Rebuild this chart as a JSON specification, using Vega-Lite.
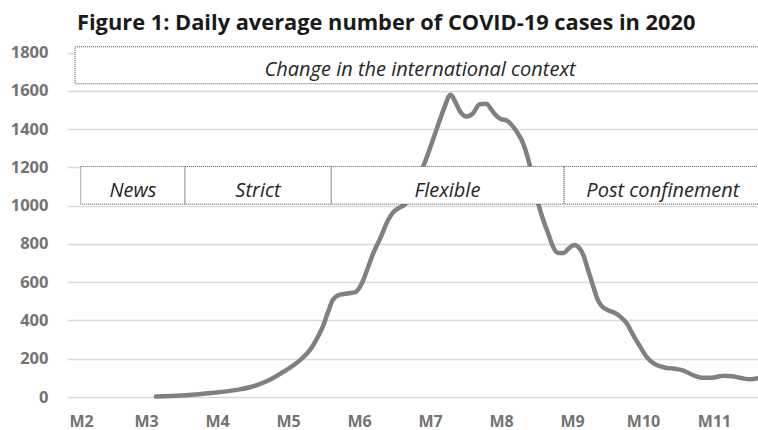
{
  "$schema": "https://vega.github.io/schema/vega-lite/v6.json",
  "width": 691,
  "height": 354,
  "autosize": {"type": "none"},
  "padding": {"left": 67, "top": 43, "right": 0, "bottom": 33},
  "background": "white",
  "config": {"view": {"stroke": null}},
  "title": {
    "text": "Figure 1: Daily average number of COVID-19 cases in 2020",
    "anchor": "start",
    "frame": "group",
    "dx": 10,
    "offset": -9,
    "baseline": "alphabetic",
    "font": "Open Sans",
    "fontSize": 21.8,
    "fontWeight": "bold",
    "color": "#1a1a1a"
  },
  "datasets": {
    "cases": [
      {"t": 3.14, "v": 2}, {"t": 3.5, "v": 8}, {"t": 3.855, "v": 19}, {"t": 4.1, "v": 28},
      {"t": 4.32, "v": 40}, {"t": 4.5, "v": 55}, {"t": 4.7, "v": 82}, {"t": 4.95, "v": 135},
      {"t": 5.17, "v": 193}, {"t": 5.31, "v": 246}, {"t": 5.4, "v": 300}, {"t": 5.49, "v": 368},
      {"t": 5.57, "v": 450}, {"t": 5.63, "v": 507}, {"t": 5.73, "v": 535}, {"t": 5.85, "v": 542},
      {"t": 5.95, "v": 548}, {"t": 6.04, "v": 594}, {"t": 6.12, "v": 670}, {"t": 6.2, "v": 751},
      {"t": 6.3, "v": 830}, {"t": 6.41, "v": 925}, {"t": 6.48, "v": 965}, {"t": 6.57, "v": 990},
      {"t": 6.65, "v": 1008}, {"t": 6.78, "v": 1100}, {"t": 6.91, "v": 1210}, {"t": 7.0, "v": 1300},
      {"t": 7.09, "v": 1396}, {"t": 7.2, "v": 1510}, {"t": 7.29, "v": 1580}, {"t": 7.36, "v": 1540},
      {"t": 7.42, "v": 1495}, {"t": 7.52, "v": 1466}, {"t": 7.6, "v": 1480}, {"t": 7.7, "v": 1530},
      {"t": 7.79, "v": 1532}, {"t": 7.86, "v": 1505}, {"t": 7.92, "v": 1475}, {"t": 8.0, "v": 1452},
      {"t": 8.08, "v": 1445}, {"t": 8.17, "v": 1413}, {"t": 8.25, "v": 1370}, {"t": 8.31, "v": 1327},
      {"t": 8.37, "v": 1260}, {"t": 8.41, "v": 1204}, {"t": 8.47, "v": 1100}, {"t": 8.53, "v": 1004},
      {"t": 8.6, "v": 920}, {"t": 8.66, "v": 860}, {"t": 8.74, "v": 780}, {"t": 8.81, "v": 752},
      {"t": 8.88, "v": 752}, {"t": 8.95, "v": 775}, {"t": 9.03, "v": 795}, {"t": 9.1, "v": 780},
      {"t": 9.16, "v": 742}, {"t": 9.23, "v": 660}, {"t": 9.3, "v": 577}, {"t": 9.36, "v": 510},
      {"t": 9.42, "v": 475}, {"t": 9.5, "v": 455}, {"t": 9.6, "v": 440}, {"t": 9.68, "v": 420},
      {"t": 9.77, "v": 385}, {"t": 9.86, "v": 325}, {"t": 9.96, "v": 263}, {"t": 10.05, "v": 210},
      {"t": 10.15, "v": 176}, {"t": 10.25, "v": 160}, {"t": 10.33, "v": 152}, {"t": 10.45, "v": 148},
      {"t": 10.57, "v": 138}, {"t": 10.7, "v": 115}, {"t": 10.83, "v": 101}, {"t": 10.97, "v": 101},
      {"t": 11.08, "v": 108}, {"t": 11.15, "v": 111}, {"t": 11.25, "v": 108}, {"t": 11.32, "v": 104},
      {"t": 11.42, "v": 96}, {"t": 11.51, "v": 93}, {"t": 11.62, "v": 98}
    ],
    "boxes": [
      {"label": "Change in the international context", "start": 2.0, "end": 11.75, "lo": 1637, "hi": 1830, "mid": 6.86, "ty": 1678},
      {"label": "News", "start": 2.08, "end": 3.55, "lo": 1008, "hi": 1205, "mid": 2.815, "ty": 1047},
      {"label": "Strict", "start": 3.55, "end": 5.61, "lo": 1008, "hi": 1205, "mid": 4.577, "ty": 1047},
      {"label": "Flexible", "start": 5.61, "end": 8.89, "lo": 1008, "hi": 1205, "mid": 7.246, "ty": 1047},
      {"label": "Post confinement", "start": 8.89, "end": 11.75, "lo": 1008, "hi": 1205, "mid": 10.28, "ty": 1047}
    ]
  },
  "layer": [
    {
      "data": {"name": "cases"},
      "mark": {"type": "line", "color": "#808080", "strokeWidth": 4.5, "interpolate": "monotone", "strokeCap": "round", "strokeJoin": "round"},
      "encoding": {
        "x": {
          "field": "t", "type": "quantitative",
          "scale": {"domain": [1.887, 11.62], "nice": false, "zero": false},
          "axis": {
            "title": null, "values": [2, 3, 4, 5, 6, 7, 8, 9, 10, 11],
            "labelExpr": "'M' + datum.value",
            "grid": false, "domain": false, "ticks": false,
            "labelFont": "Open Sans", "labelFontSize": 16, "labelFontWeight": "bold",
            "labelColor": "#737373", "labelPadding": 16, "labelFlush": false, "labelOverlap": false,
            "labelBaseline": "top",
            "labelOffset": {"condition": {"test": "datum.value == 2", "value": 6}, "value": 0}
          }
        },
        "y": {
          "field": "v", "type": "quantitative",
          "scale": {"domain": [0, 1850], "nice": false},
          "axis": {
            "title": null, "values": [0, 200, 400, 600, 800, 1000, 1200, 1400, 1600, 1800],
            "format": "d", "labelOverlap": false,
            "grid": true, "gridColor": "#d9d9d9", "gridWidth": 1.3,
            "domain": false, "ticks": false,
            "labelFont": "Open Sans", "labelFontSize": 16.5, "labelFontWeight": "bold",
            "labelColor": "#737373", "labelPadding": 19
          }
        }
      }
    },
    {
      "data": {"name": "boxes"},
      "mark": {"type": "rect", "fill": "white", "stroke": "#555555", "strokeWidth": 1, "strokeDash": [1, 1], "clip": true},
      "encoding": {
        "x": {
          "field": "start", "type": "quantitative",
          "axis": {
            "title": null, "values": [2, 3, 4, 5, 6, 7, 8, 9, 10, 11],
            "labelExpr": "'M' + datum.value",
            "grid": false, "domain": false, "ticks": false,
            "labelFont": "Open Sans", "labelFontSize": 16, "labelFontWeight": "bold",
            "labelColor": "#737373", "labelPadding": 16, "labelFlush": false, "labelOverlap": false,
            "labelBaseline": "top",
            "labelOffset": {"condition": {"test": "datum.value == 2", "value": 6}, "value": 0}
          }
        },
        "x2": {"field": "end"},
        "y": {
          "field": "lo", "type": "quantitative",
          "axis": {
            "title": null, "values": [0, 200, 400, 600, 800, 1000, 1200, 1400, 1600, 1800],
            "format": "d", "labelOverlap": false,
            "grid": true, "gridColor": "#d9d9d9", "gridWidth": 1.3,
            "domain": false, "ticks": false,
            "labelFont": "Open Sans", "labelFontSize": 16.5, "labelFontWeight": "bold",
            "labelColor": "#737373", "labelPadding": 19
          }
        },
        "y2": {"field": "hi"}
      }
    },
    {
      "data": {"name": "boxes"},
      "mark": {"type": "text", "font": "Open Sans", "fontStyle": "italic", "fontSize": 20, "color": "#262626", "align": "center", "baseline": "alphabetic"},
      "encoding": {
        "x": {
          "field": "mid", "type": "quantitative",
          "axis": {
            "title": null, "values": [2, 3, 4, 5, 6, 7, 8, 9, 10, 11],
            "labelExpr": "'M' + datum.value",
            "grid": false, "domain": false, "ticks": false,
            "labelFont": "Open Sans", "labelFontSize": 16, "labelFontWeight": "bold",
            "labelColor": "#737373", "labelPadding": 16, "labelFlush": false, "labelOverlap": false,
            "labelBaseline": "top",
            "labelOffset": {"condition": {"test": "datum.value == 2", "value": 6}, "value": 0}
          }
        },
        "y": {
          "field": "ty", "type": "quantitative",
          "axis": {
            "title": null, "values": [0, 200, 400, 600, 800, 1000, 1200, 1400, 1600, 1800],
            "format": "d", "labelOverlap": false,
            "grid": true, "gridColor": "#d9d9d9", "gridWidth": 1.3,
            "domain": false, "ticks": false,
            "labelFont": "Open Sans", "labelFontSize": 16.5, "labelFontWeight": "bold",
            "labelColor": "#737373", "labelPadding": 19
          }
        },
        "text": {"field": "label"}
      }
    }
  ]
}
